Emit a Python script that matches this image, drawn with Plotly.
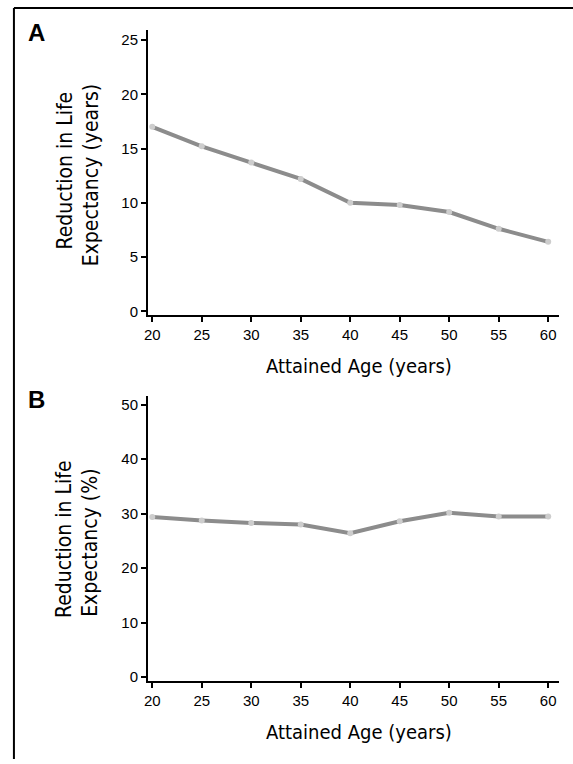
import plotly.graph_objects as go

ages = [20, 25, 30, 35, 40, 45, 50, 55, 60]
reduction_years = [17.0, 15.2, 13.7, 12.2, 10.0, 9.8, 9.15, 7.6, 6.4]
reduction_pct = [29.4, 28.75, 28.3, 28.0, 26.4, 28.6, 30.15, 29.5, 29.5]

x_ticks = [20, 25, 30, 35, 40, 45, 50, 55, 60]
yA_ticks = [0, 5, 10, 15, 20, 25]
yB_ticks = [0, 10, 20, 30, 40, 50]

W, H = 573, 764
LINE = "#8c8c8c"
MARK = "#cdcdcd"
COND = "Liberation Sans Narrow, DejaVu Sans Condensed, Arial Narrow, sans-serif"
TICKF = dict(family="Liberation Sans, Arial, sans-serif", size=15, color="black")

fig = go.Figure()
fig.add_trace(go.Scatter(x=ages, y=reduction_years, xaxis="x", yaxis="y",
                         mode="lines+markers",
                         line=dict(color=LINE, width=4),
                         marker=dict(color=MARK, size=6),
                         showlegend=False))
fig.add_trace(go.Scatter(x=ages, y=reduction_pct, xaxis="x2", yaxis="y2",
                         mode="lines+markers",
                         line=dict(color=LINE, width=4),
                         marker=dict(color=MARK, size=6),
                         showlegend=False))

def px_x(p):
    return p / W

def px_y(p):
    return 1 - p / H

axis_common = dict(showline=True, linecolor="black", linewidth=2,
                   ticks="outside", ticklen=5, tickwidth=1.5, tickcolor="black",
                   showgrid=False, zeroline=False, tickfont=TICKF)

fig.update_layout(
    width=W, height=H,
    margin=dict(l=0, r=0, t=0, b=0),
    paper_bgcolor="white", plot_bgcolor="white",
    xaxis=dict(domain=[px_x(145), px_x(559)], range=[19.57, 61.1],
               tickvals=x_ticks, anchor="y", **axis_common),
    yaxis=dict(domain=[px_y(316.7), px_y(30)], range=[-0.31, 25.94],
               tickvals=yA_ticks, anchor="x", **axis_common),
    xaxis2=dict(domain=[px_x(145), px_x(559)], range=[19.57, 61.1],
                tickvals=x_ticks, anchor="y2", **axis_common),
    yaxis2=dict(domain=[px_y(685), px_y(398.3)], range=[-0.6, 51.64],
                tickvals=yB_ticks, anchor="x2", **axis_common),
)

annots = []
def ann(text, x, y, size, angle=0, family=COND, bold=False):
    annots.append(dict(text=("<b>%s</b>" % text) if bold else text,
                       x=px_x(x), y=px_y(y), xref="paper", yref="paper",
                       showarrow=False, textangle=angle,
                       xanchor="center", yanchor="middle",
                       font=dict(family=family, size=size, color="black")))

# panel letters
ann("A", 33, 33, 24, family="Liberation Sans, Arial, sans-serif", bold=True)
ann("B", 33, 402, 24, family="Liberation Sans, Arial, sans-serif", bold=True)
# y titles
ann("Reduction in Life", 61, 172, 21, angle=-90)
ann("Expectancy (years)", 87, 176, 21, angle=-90)
ann("Reduction in Life", 61, 543, 21, angle=-90)
ann("Expectancy (%)", 87, 546, 21, angle=-90)
# x titles
ann("Attained Age (years)", 357, 368, 20)
ann("Attained Age (years)", 357, 737, 20)

fig.update_layout(annotations=annots)

# frame lines (top and left)
fig.update_layout(shapes=[
    dict(type="line", xref="paper", yref="paper", x0=px_x(10), x1=1.0,
         y0=px_y(8), y1=px_y(8), line=dict(color="black", width=2)),
    dict(type="line", xref="paper", yref="paper", x0=px_x(10), x1=px_x(10),
         y0=px_y(8), y1=0, line=dict(color="black", width=2)),
])

fig.write_html("out.html",
               config={"displayModeBar": False},
               post_script="document.body.style.margin='0';"
                           "document.body.style.overflow='hidden';")
